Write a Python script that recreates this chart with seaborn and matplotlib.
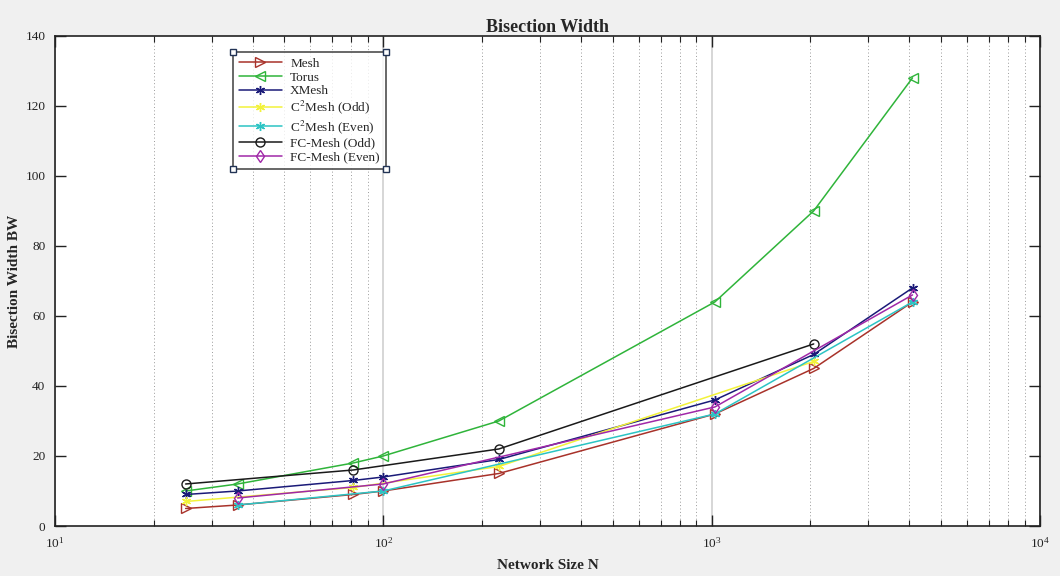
import matplotlib
matplotlib.use("Agg")
import matplotlib.pyplot as plt
import seaborn as sns
import numpy as np
import pandas as pd
from matplotlib.ticker import LogLocator, MultipleLocator, NullFormatter
from matplotlib.patches import Rectangle

# ---------------- data ----------------
N_all = [25, 36, 81, 100, 225, 1024, 2048, 4096]
mesh = [5, 6, 9, 10, 15, 32, 45, 64]
torus = [10, 12, 18, 20, 30, 64, 90, 128]
xmesh = [9, 10, 13, 14, 19, 36, 49, 68]
N_odd = [25, 81, 225, 2048]
c2_odd = [7, 11, 17, 47]
fc_odd = [12, 16, 22, 52]
N_even = [36, 100, 1024, 4096]
c2_even = [6, 10, 32, 64]
fc_even = [8, 12, 34, 66]

series_names = ["Mesh", "Torus", "XMesh", "C$^2$Mesh (Odd)", "C$^2$Mesh (Even)",
                "FC-Mesh (Odd)", "FC-Mesh (Even)"]
series_x = [N_all, N_all, N_all, N_odd, N_even, N_odd, N_even]
series_y = [mesh, torus, xmesh, c2_odd, c2_even, fc_odd, fc_even]

colors = ["#a8322a", "#2fb43a", "#1a1a78", "#f2f23a", "#2cc4c4", "#1a1a1a", "#a028a8"]
asterisk = (6, 2, 0)
markers = [">", "<", asterisk, asterisk, asterisk, "o", "d"]
filled = [False, False, True, True, True, False, False]

# ---------------- style ----------------
sns.set_theme(style="white")
plt.rcParams["font.family"] = ["Liberation Serif", "DejaVu Serif"]
plt.rcParams["mathtext.fontset"] = "stix"

fig = plt.figure(figsize=(10.6, 5.76), dpi=100, facecolor="#f0f0f0")
ax = fig.add_axes([0.0519, 0.0868, 0.929, 0.851])
ax.set_facecolor("white")

for name, xs, ys, c, m, f in zip(series_names, series_x, series_y, colors, markers, filled):
    df = pd.DataFrame({"N": xs, "BW": ys})
    sns.lineplot(data=df, x="N", y="BW", ax=ax, color=c, marker=m, markersize=6.5,
                 markerfacecolor=(c if f else "none"), markeredgecolor=c,
                 markeredgewidth=1.0, linewidth=1.1, label=name, sort=False,
                 estimator=None)

ax.set_xscale("log")
ax.set_xlim(10, 10000)
ax.set_ylim(0, 140)
ax.yaxis.set_major_locator(MultipleLocator(20))
ax.xaxis.set_major_locator(LogLocator(base=10, numticks=10))
ax.xaxis.set_minor_locator(LogLocator(base=10, subs=np.arange(2, 10), numticks=20))
ax.xaxis.set_minor_formatter(NullFormatter())

ax.grid(False)
ax.grid(True, axis="x", which="minor", linestyle=(0, (1, 2.5)), color="#9a9a9a", linewidth=0.7)
ax.grid(True, axis="x", which="major", linestyle="-", color="#d0d0d0", linewidth=1.2)
ax.set_axisbelow(True)

ax.tick_params(axis="both", which="both", direction="in", top=True, right=True,
               bottom=True, left=True, colors="#222222", labelsize=9.5, pad=7)
ax.tick_params(axis="both", which="major", length=8, width=1.0)
ax.tick_params(axis="x", which="minor", length=4, width=0.8)
for sp in ax.spines.values():
    sp.set_color("#222222")
    sp.set_linewidth(1.2)

ax.set_title("Bisection Width", fontsize=13, fontweight="bold", pad=3)
ax.set_xlabel("Network Size N", fontsize=11, fontweight="bold", labelpad=6)
ax.set_ylabel("Bisection Width BW", fontsize=11, fontweight="bold", labelpad=3)

leg = ax.legend(loc="upper left", bbox_to_anchor=(0.1805, 0.968), fontsize=9.5,
                frameon=True, fancybox=False, edgecolor="#333333",
                handlelength=3.3, labelspacing=0.12, borderpad=0.45,
                handletextpad=0.6, borderaxespad=0.0)
leg.get_frame().set_linewidth(1.3)

# corner handles on legend box (as in the original MATLAB edit view)
fig.canvas.draw()
bb = leg.get_window_extent().transformed(fig.transFigure.inverted())
s_w, s_h = 6 / 1060, 6 / 576
for cx, cy in [(bb.x0, bb.y0), (bb.x1, bb.y0), (bb.x0, bb.y1), (bb.x1, bb.y1)]:
    fig.patches.append(Rectangle((cx - s_w / 2, cy - s_h / 2), s_w, s_h,
                                 transform=fig.transFigure, facecolor="white",
                                 edgecolor="#223355", linewidth=1.0, zorder=10))

fig.savefig("out.png", dpi=100, facecolor=fig.get_facecolor())
